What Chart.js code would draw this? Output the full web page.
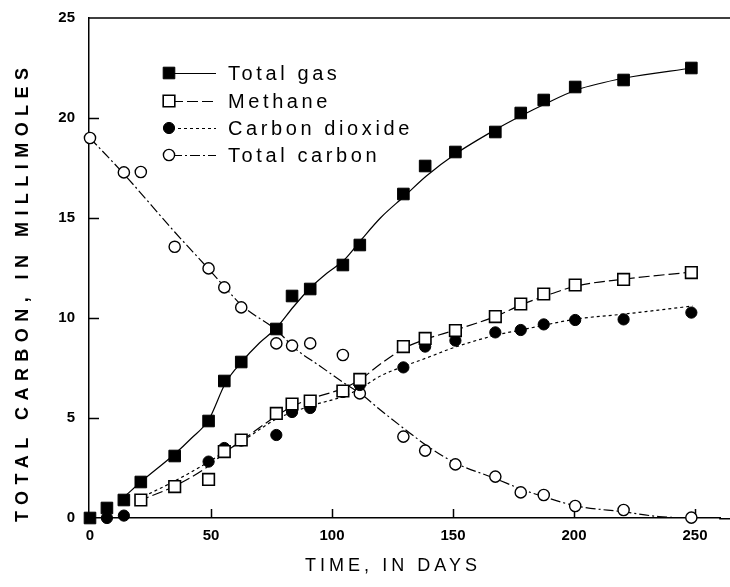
<!DOCTYPE html>
<html>
<head>
<meta charset="utf-8">
<script src="https://cdn.jsdelivr.net/npm/chart.js@4.4.0/dist/chart.umd.min.js"></script>
<style>
  html, body { margin: 0; padding: 0; background: #fff; }
  #wrap { width: 730px; height: 587px; }
</style>
</head>
<body>
<div id="wrap"><canvas id="chart"></canvas></div>
<script>
// sampling days (x of the measured points)
const sampleDays = [0, 7, 14, 21, 35, 49, 55.5, 62.5, 77, 83.5, 91, 104.5, 111.5, 129.5, 138.5, 151, 167.5, 178, 187.5, 200.5, 220.5, 248.5];

// measured values, millimoles (null = not visible)
const totalGas = [0, 0.5, 0.9, 1.8, 3.1, 4.85, 6.85, 7.8, 9.45, 11.1, 11.45, 12.65, 13.65, 16.2, 17.6, 18.3, 19.3, 20.25, 20.9, 21.55, 21.9, 22.5];
const methane = [null, null, null, 0.9, 1.57, 1.93, 3.32, 3.9, 5.23, 5.7, 5.85, 6.35, 6.93, 8.57, 8.98, 9.37, 10.07, 10.7, 11.2, 11.65, 11.93, 12.27];
const carbonDioxide = [null, 0, 0.12, null, null, 2.82, 3.5, 3.87, 4.15, 5.3, 5.5, 6.3, 6.65, 7.53, 8.57, 8.87, 9.28, 9.4, 9.68, 9.9, 9.93, 10.27];
const totalCarbon = [19, null, 17.28, 17.3, 13.56, 12.48, 11.53, 10.53, 8.73, 8.62, 8.73, 8.15, 6.23, 4.07, 3.37, 2.68, 2.07, 1.28, 1.15, 0.6, 0.4, 0.02];

// fitted curves
const gasCurveDays = [15, 21, 35, 42, 49, 56, 63, 70, 77, 84, 91, 98, 105, 112, 120, 130, 139, 151, 168, 178, 188, 201, 221, 249];
const gasCurve = [1.15, 1.8, 3.2, 4.0, 4.9, 6.75, 7.85, 8.75, 9.5, 10.55, 11.5, 12.25, 12.9, 13.9, 15.0, 16.1, 17.1, 18.2, 19.45, 20.1, 20.7, 21.4, 22.0, 22.5];
const methaneCurveDays = [20, 35, 49, 56, 63, 77, 84, 91, 105, 112, 120, 130, 139, 151, 168, 178, 188, 201, 221, 249];
const methaneCurve = [0.85, 1.6, 2.6, 3.3, 3.9, 5.1, 5.6, 5.95, 6.5, 6.95, 7.7, 8.5, 8.95, 9.4, 10.1, 10.65, 11.1, 11.6, 11.95, 12.3];
const co2CurveDays = [20, 35, 49, 56, 63, 77, 84, 91, 105, 112, 120, 130, 139, 151, 168, 178, 188, 201, 221, 249];
const co2Curve = [0.95, 1.85, 2.8, 3.35, 3.85, 4.95, 5.3, 5.6, 6.1, 6.5, 7.1, 7.6, 8.0, 8.55, 9.15, 9.4, 9.65, 9.95, 10.2, 10.6];
const carbonCurveDays = [0, 14, 35, 49, 56, 63, 77, 85, 95, 105, 112, 120, 130, 140, 151, 168, 178, 188, 201, 221, 235, 249];
const carbonCurve = [19, 17.2, 14.3, 12.45, 11.5, 10.6, 9.4, 8.45, 7.6, 6.75, 6.2, 5.4, 4.45, 3.55, 2.75, 1.95, 1.45, 1.05, 0.6, 0.3, 0.07, 0];

const xTicks = [0, 50, 100, 150, 200, 250];
const yTicks = [0, 5, 10, 15, 20, 25];

const seriesNames = ['Total gas', 'Methane', 'Carbon dioxide', 'Total carbon'];

function pts(xs, ys) {
  const out = [];
  xs.forEach((x, i) => { if (ys[i] !== null) out.push({ x, y: ys[i] }); });
  return out;
}

const markers = [
  { pointStyle: 'rect', pointRadius: 8.2, backgroundColor: '#000', borderColor: '#000', pointBorderWidth: 1 },
  { pointStyle: 'rect', pointRadius: 8.2, backgroundColor: '#fff', borderColor: '#000', pointBorderWidth: 1.6 },
  { pointStyle: 'circle', pointRadius: 5.6, backgroundColor: '#000', borderColor: '#000', pointBorderWidth: 1 },
  { pointStyle: 'circle', pointRadius: 5.6, backgroundColor: '#fff', borderColor: '#000', pointBorderWidth: 1.4 }
];
const dashes = [[], [11, 4], [3, 3], [10, 3, 2, 3]];

function curve(xs, ys, dash) {
  return {
    type: 'line', data: pts(xs, ys), showLine: true, pointRadius: 0,
    borderColor: '#000', borderWidth: 1.2, borderDash: dash,
    cubicInterpolationMode: 'monotone', fill: false, order: 10
  };
}
function points(xs, ys, m, order) {
  return {
    data: pts(xs, ys), showLine: false, order, clip: false,
    pointStyle: m.pointStyle, pointRadius: m.pointRadius, pointHoverRadius: m.pointRadius,
    pointBackgroundColor: m.backgroundColor, pointBorderColor: m.borderColor,
    pointBorderWidth: m.pointBorderWidth
  };
}

function spaced(ctx, text, x, y, width) {
  ctx.letterSpacing = '0px';
  const w = ctx.measureText(text).width;
  const sp = (width - w) / (text.length - 1);
  ctx.letterSpacing = sp + 'px';
  ctx.fillText(text, x, y);
  ctx.letterSpacing = '0px';
}

// top border (runs to the page edge like the bottom axis) and inward tick marks
const framePlugin = {
  id: 'frame',
  beforeDatasetsDraw(chart) {
    const { ctx, chartArea: a, scales: { x, y } } = chart;
    ctx.save();
    ctx.strokeStyle = '#000';
    ctx.lineWidth = 1.5;
    ctx.beginPath();
    ctx.moveTo(a.left, a.top);
    ctx.lineTo(chart.width, a.top);
    ctx.moveTo(a.right - 1, a.bottom + 0.75);
    ctx.lineTo(chart.width, a.bottom + 0.75);
    yTicks.slice(1, -1).forEach(v => {
      const py = Math.round(y.getPixelForValue(v)) + 0.5;
      ctx.moveTo(a.left, py);
      ctx.lineTo(a.left + 10, py);
    });
    xTicks.slice(1).forEach(v => {
      const px = Math.round(x.getPixelForValue(v)) + 0.5;
      ctx.moveTo(px, a.bottom);
      ctx.lineTo(px, a.bottom - 9);
    });
    ctx.stroke();
    ctx.restore();
  },
  afterDraw(chart) {
    const { ctx } = chart;
    ctx.save();
    ctx.fillStyle = '#000';
    // axis titles
    ctx.font = 'bold 18px "Liberation Sans", Arial, sans-serif';
    ctx.textBaseline = 'middle';
    ctx.textAlign = 'left';
    ctx.save();
    ctx.translate(23, 522);
    ctx.rotate(-Math.PI / 2);
    spaced(ctx, 'TOTAL CARBON, IN MILLIMOLES', 0, 0, 454);
    ctx.restore();
    ctx.font = '18px "Liberation Sans", Arial, sans-serif';
    spaced(ctx, 'TIME, IN DAYS', 305, 566, 172);

    // legend
    const rows = [73, 101, 128, 155];
    ctx.font = '20px "Liberation Sans", Arial, sans-serif';
    rows.forEach((ry, i) => {
      ctx.strokeStyle = '#000';
      ctx.lineWidth = 1.2;
      ctx.setLineDash(dashes[i]);
      ctx.beginPath();
      ctx.moveTo(172, ry + 0.5);
      ctx.lineTo(216, ry + 0.5);
      ctx.stroke();
      ctx.setLineDash([]);
      const m = markers[i];
      ctx.fillStyle = m.backgroundColor;
      ctx.strokeStyle = m.borderColor;
      ctx.lineWidth = m.pointBorderWidth;
      Chart.helpers.drawPoint(ctx, { pointStyle: m.pointStyle, radius: m.pointRadius, borderWidth: m.pointBorderWidth }, 169, ry);
      ctx.fillStyle = '#000';
      ctx.letterSpacing = '3.6px';
      ctx.fillText(seriesNames[i], 228, ry + 1);
      ctx.letterSpacing = '0px';
    });
    ctx.restore();
  }
};

const ctx = document.getElementById('chart').getContext('2d');
const chart = new Chart(ctx, {
  type: 'scatter',
  data: {
    datasets: [
      curve(gasCurveDays, gasCurve, dashes[0]),
      curve(methaneCurveDays, methaneCurve, dashes[1]),
      curve(co2CurveDays, co2Curve, dashes[2]),
      curve(carbonCurveDays, carbonCurve, dashes[3]),
      points(sampleDays, totalGas, markers[0], 0),
      points(sampleDays, methane, markers[1], 1),
      points(sampleDays, carbonDioxide, markers[2], 2),
      points(sampleDays, totalCarbon, markers[3], 3)
    ]
  },
  options: {
    responsive: true,
    maintainAspectRatio: false,
    animation: false,
    layout: { padding: { top: 18, right: 0, left: 0, bottom: 0 } },
    plugins: { legend: { display: false }, tooltip: { enabled: false } },
    scales: {
      x: {
        type: 'linear',
        min: -0.41,
        max: 260.42,
        afterBuildTicks: s => { s.ticks = xTicks.map(v => ({ value: v })); },
        afterFit: s => { s.height = 69; s.paddingRight = 0; s.paddingLeft = 0; },
        grid: { display: false, drawTicks: false },
        border: { display: true, color: '#000', width: 1.5 },
        ticks: {
          padding: 9,
          color: '#000',
          font: { family: '"Liberation Sans", Arial, sans-serif', size: 15, weight: 'bold' }
        }
      },
      y: {
        min: 0,
        max: 25,
        afterBuildTicks: s => { s.ticks = yTicks.map(v => ({ value: v })); },
        afterFit: s => { s.width = 89; s.paddingTop = 0; s.paddingBottom = 0; },
        grid: { display: false, drawTicks: false },
        border: { display: true, color: '#000', width: 1.5 },
        ticks: {
          padding: 14,
          color: '#000',
          font: { family: '"Liberation Sans", Arial, sans-serif', size: 15, weight: 'bold' }
        }
      }
    }
  },
  plugins: [framePlugin]
});
</script>
</body>
</html>
